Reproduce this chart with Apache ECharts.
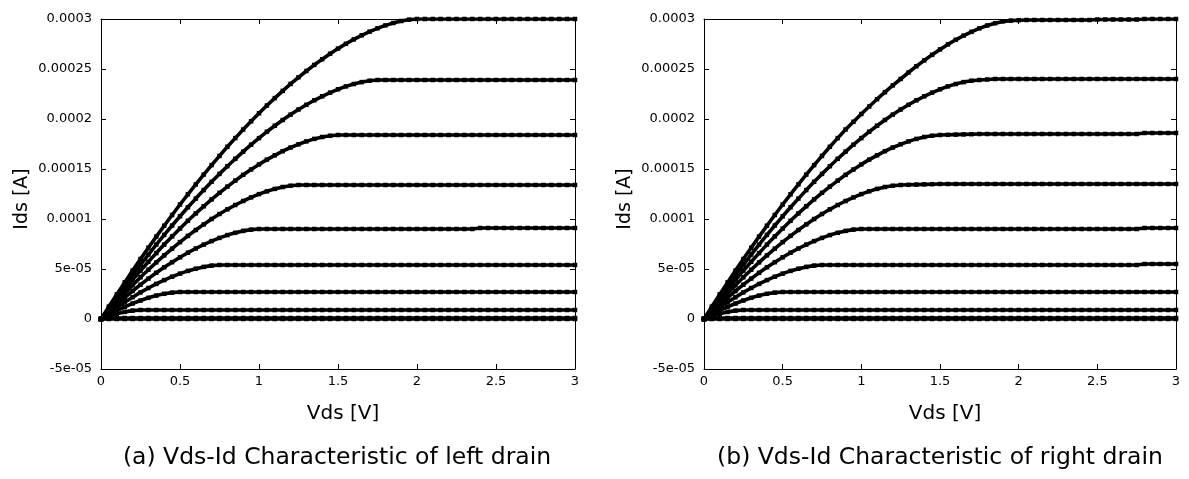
<!DOCTYPE html>
<html>
<head>
<meta charset="utf-8">
<script src="https://cdn.jsdelivr.net/npm/echarts@6/dist/echarts.min.js"></script>
<style>
  html, body { margin: 0; padding: 0; background: #fff; }
  #vds_id_grp { width: 1189px; height: 479px; }
</style>
</head>
<body>
<div id="vds_id_grp"></div>
<script>
// Vds [V] sample points
var vds = [0,0.05,0.1,0.15,0.2,0.25,0.3,0.35,0.4,0.45,
  0.5,0.55,0.6,0.65,0.7,0.75,0.8,0.85,0.9,0.95,
  1,1.05,1.1,1.15,1.2,1.25,1.3,1.35,1.4,1.45,
  1.5,1.55,1.6,1.65,1.7,1.75,1.8,1.85,1.9,1.95,
  2,2.05,2.1,2.15,2.2,2.25,2.3,2.35,2.4,2.45,
  2.5,2.55,2.6,2.65,2.7,2.75,2.8,2.85,2.9,2.95,
  3];

var yTickLabels = ['-5e-05','0','5e-05','0.0001','0.00015','0.0002','0.00025','0.0003'];
var captions = ['(a) Vds-Id Characteristic of left drain', '(b) Vds-Id Characteristic of right drain'];

// Ids in uA, left drain
var left1 = [0,12.4,24.6,36.6,48.4,60.0,71.3,82.4,93.3,104.0,
  114.5,124.7,134.6,144.4,153.9,163.1,172.2,180.9,189.5,197.7,
  205.7,213.5,220.9,228.1,235.1,241.7,248.0,254.1,259.8,265.3,
  270.4,275.2,279.6,283.7,287.4,290.7,293.6,296.0,298.0,299.4,
  300,300,300,300,300,300,300,300,300,300,
  300,300,300,300,300,300,300,300,300,300,
  300];
var left2 = [0,11.3,22.3,33.2,43.8,54.2,64.4,74.4,84.1,93.5,
  102.7,111.7,120.4,128.9,137.2,145.1,152.8,160.2,167.4,174.3,
  180.9,187.3,193.3,199.0,204.4,209.5,214.2,218.7,222.7,226.4,
  229.7,232.6,235.0,236.9,238.3,239,239,239,239,239,
  239,239,239,239,239,239,239,239,239,239,
  239,239,239,239,239,239,239,239,239,239,
  239];
var left3 = [0,10.1,20.0,29.7,39.1,48.3,57.2,65.9,74.4,82.6,
  90.5,98.2,105.6,112.7,119.6,126.2,132.4,138.4,144.2,149.5,
  154.6,159.4,163.7,167.8,171.5,174.7,177.6,180.1,182.0,183.3,
  184,184,184,184,184,184,184,184,184,184,
  184,184,184,184,184,184,184,184,184,184,
  184,184,184,184,184,184,184,184,184,184,
  184];
var left4 = [0,8.8,17.4,25.8,33.8,41.7,49.3,56.6,63.6,70.4,
  76.9,83.1,89.0,94.6,100.0,105.0,109.7,114.0,118.0,121.6,
  124.9,127.7,130.1,132.0,133.3,134,134,134,134,134,
  134,134,134,134,134,134,134,134,134,134,
  134,134,134,134,134,134,134,134,134,134,
  134,134,134,134,134,134,134,134,134,134,
  134];
var left5 = [0,7.4,14.5,21.4,28.0,34.3,40.4,46.2,51.7,56.8,
  61.7,66.3,70.5,74.4,77.9,81.1,83.9,86.2,88.1,89.4,
  90,90,90,90,90,90,90,90,90,90,
  90,90,90,90,90,90,90,90,90,90,
  90,90,90,90,90,90,90,90,91,91,
  91,91,91,91,91,91,91,91,91,91,
  91];
var left6 = [0,5.9,11.5,16.8,21.8,26.6,31.0,35.1,38.9,42.3,
  45.4,48.1,50.3,52.1,53.4,54,54,54,54,54,
  54,54,54,54,54,54,54,54,54,54,
  54,54,54,54,54,54,54,54,54,54,
  54,54,54,54,54,54,54,54,54,54,
  54,54,54,54,54,54,54,54,54,54,
  54];
var left7 = [0,4.4,8.4,12.1,15.5,18.5,21.2,23.4,25.2,26.4,
  27,27,27,27,27,27,27,27,27,27,
  27,27,27,27,27,27,27,27,27,27,
  27,27,27,27,27,27,27,27,27,27,
  27,27,27,27,27,27,27,27,27,27,
  27,27,27,27,27,27,27,27,27,27,
  27];
var left8 = [0,2.8,5.2,7.1,8.4,9,9,9,9,9,
  9,9,9,9,9,9,9,9,9,9,
  9,9,9,9,9,9,9,9,9,9,
  9,9,9,9,9,9,9,9,9,9,
  9,9,9,9,9,9,9,9,9,9,
  9,9,9,9,9,9,9,9,9,9,
  9];
var left9 = [0,0.7,1,1,1,1,1,1,1,1,
  1,1,1,1,1,1,1,1,1,1,
  1,1,1,1,1,1,1,1,1,1,
  1,1,1,1,1,1,1,1,1,1,
  1,1,1,1,1,1,1,1,1,1,
  1,1,1,1,1,1,1,1,1,1,
  1];
var left10 = [0,0,0,0,0,0,0,0,0,0,
  0,0,0,0,0,0,0,0,0,0,
  0,0,0,0,0,0,0,0,0,0,
  0,0,0,0,0,0,0,0,0,0,
  0,0,0,0,0,0,0,0,0,0,
  0,0,0,0,0,0,0,0,0,0,
  0];

// Ids in uA, right drain
var right1 = [0,12.4,24.6,36.6,48.4,60.0,71.3,82.4,93.3,104.0,
  114.5,124.7,134.6,144.4,153.9,163.1,172.2,180.9,189.5,197.2,
  205.0,212.5,219.8,226.8,233.6,240.0,246.5,252.8,258.6,264.2,
  269.6,274.6,279.2,283.4,287.2,290.6,293.5,295.8,297.6,298.4,
  298.8,299,299,299,299,299,299,299,299,299,
  299.5,299.5,299.5,299.5,299.5,299.5,300,300,300,300,
  300];
var right2 = [0,11.3,22.3,33.2,43.8,54.2,64.4,74.4,84.1,93.5,
  102.7,111.7,120.4,128.9,137.2,145.1,152.8,160.2,167.4,174.3,
  180.9,187.3,193.3,199.0,204.4,209.5,214.2,218.7,222.7,226.4,
  229.7,232.6,235.0,236.9,238.3,239,239.5,240,240,240,
  240,240,240,240,240,240,240,240,240,240,
  240,240,240,240,240,240,240,240,240,240,
  240];
var right3 = [0,10.1,20.0,29.7,39.1,48.3,57.2,65.9,74.4,82.6,
  90.5,98.2,105.6,112.7,119.6,126.2,132.4,138.4,144.2,149.5,
  154.6,159.4,163.7,167.8,171.5,174.7,177.6,180.1,182.0,183.3,
  184,184.2,184.4,184.6,184.8,185,185,185,185,185,
  185,185,185,185,185,185,185,185,185,185,
  185,185,185,185,185,185,186,186,186,186,
  186];
var right4 = [0,8.8,17.4,25.8,33.8,41.7,49.3,56.6,63.6,70.4,
  76.9,83.1,89.0,94.6,100.0,105.0,109.7,114.0,118.0,121.6,
  124.9,127.7,130.1,132.0,133.3,134,134.2,134.4,134.6,134.8,
  135,135,135,135,135,135,135,135,135,135,
  135,135,135,135,135,135,135,135,135,135,
  135,135,135,135,135,135,135,135,135,135,
  135];
var right5 = [0,7.4,14.5,21.4,28.0,34.3,40.4,46.2,51.7,56.8,
  61.7,66.3,70.5,74.4,77.9,81.1,83.9,86.2,88.1,89.4,
  90,90,90,90,90,90,90,90,90,90,
  90,90,90,90,90,90,90,90,90,90,
  90,90,90,90,90,90,90,90,90,90,
  90,90,90,90,90,90,91,91,91,91,
  91];
var right6 = [0,5.9,11.5,16.8,21.8,26.6,31.0,35.1,38.9,42.3,
  45.4,48.1,50.3,52.1,53.4,54,54,54,54,54,
  54,54,54,54,54,54,54,54,54,54,
  54,54,54,54,54,54,54,54,54,54,
  54,54,54,54,54,54,54,54,54,54,
  54,54,54,54,54,54,55,55,55,55,
  55];
var right7 = left7;
var right8 = left8;
var right9 = left9;
var right10 = left10;

var leftCurves = [left1, left2, left3, left4, left5, left6, left7, left8, left9, left10];
var rightCurves = [right1, right2, right3, right4, right5, right6, right7, right8, right9, right10];

var fontName = '"DejaVu Sans", sans-serif';
var yMin = -0.00005, yMax = 0.0003, yStep = 0.00005;

function makeSeries(curves, axisIdx) {
  return curves.map(function (c) {
    return {
      type: 'line',
      xAxisIndex: axisIdx,
      yAxisIndex: axisIdx,
      data: c.map(function (v, i) { return [vds[i], v * 1e-6]; }),
      symbol: 'rect',
      symbolSize: 4.5,
      showAllSymbol: true,
      lineStyle: { color: '#000', width: 3.6 },
      itemStyle: { color: '#000' },
      silent: true,
      z: 3
    };
  });
}

function xAx(gridIdx, pos) {
  var main = pos === 'bottom';
  return {
    type: 'value', gridIndex: gridIdx, position: pos,
    min: 0, max: 3, interval: 0.5,
    name: main ? 'Vds [V]' : '',
    nameLocation: 'middle', nameGap: 35,
    nameTextStyle: { fontFamily: fontName, fontSize: 20, color: '#000', padding: [0, 0, 0, 10] },
    axisLine: { show: true, onZero: false, lineStyle: { color: '#000', width: 1 } },
    axisTick: { show: true, inside: true, length: 5, lineStyle: { color: '#000' } },
    axisLabel: { show: main, margin: 6, fontFamily: fontName, fontSize: 13, color: '#000' },
    splitLine: { show: false }
  };
}

function yAx(gridIdx, pos) {
  var main = pos === 'left';
  return {
    type: 'value', gridIndex: gridIdx, position: pos,
    min: yMin, max: yMax, interval: yStep,
    name: main ? 'Ids [A]' : '',
    nameLocation: 'middle', nameGap: 69,
    nameTextStyle: { fontFamily: fontName, fontSize: 19, color: '#000', padding: [0, 10, 0, 0] },
    axisLine: { show: true, onZero: false, lineStyle: { color: '#000', width: 1 } },
    axisTick: { show: true, inside: true, length: 5, lineStyle: { color: '#000' } },
    axisLabel: {
      show: main, margin: 9, fontFamily: fontName, fontSize: 13, color: '#000',
      formatter: function (v) { return yTickLabels[Math.round((v - yMin) / yStep)]; }
    },
    splitLine: { show: false }
  };
}

var domVds = document.getElementById('vds_id_grp');
var myChartVds = echarts.init(domVds, null, { renderer: 'canvas' });

var optionVds = {
  backgroundColor: '#fff',
  animation: false,
  grid: [
    { left: 101, top: 19, width: 474, height: 350 },
    { left: 704, top: 19, width: 472, height: 350 }
  ],
  xAxis: [xAx(0, 'bottom'), xAx(1, 'bottom'), xAx(0, 'top'), xAx(1, 'top')],
  yAxis: [yAx(0, 'left'), yAx(1, 'left'), yAx(0, 'right'), yAx(1, 'right')],
  series: makeSeries(leftCurves, 0).concat(makeSeries(rightCurves, 1)),
  graphic: [
    { type: 'text', x: 337, y: 458, style: { text: captions[0], font: '23.5px ' + fontName, fill: '#000', align: 'center', verticalAlign: 'middle' } },
    { type: 'text', x: 940, y: 458, style: { text: captions[1], font: '23.5px ' + fontName, fill: '#000', align: 'center', verticalAlign: 'middle' } }
  ]
};

if (optionVds && typeof optionVds === 'object') {
  myChartVds.setOption(optionVds);
}

window.addEventListener('resize', myChartVds.resize);
</script>
</body>
</html>
